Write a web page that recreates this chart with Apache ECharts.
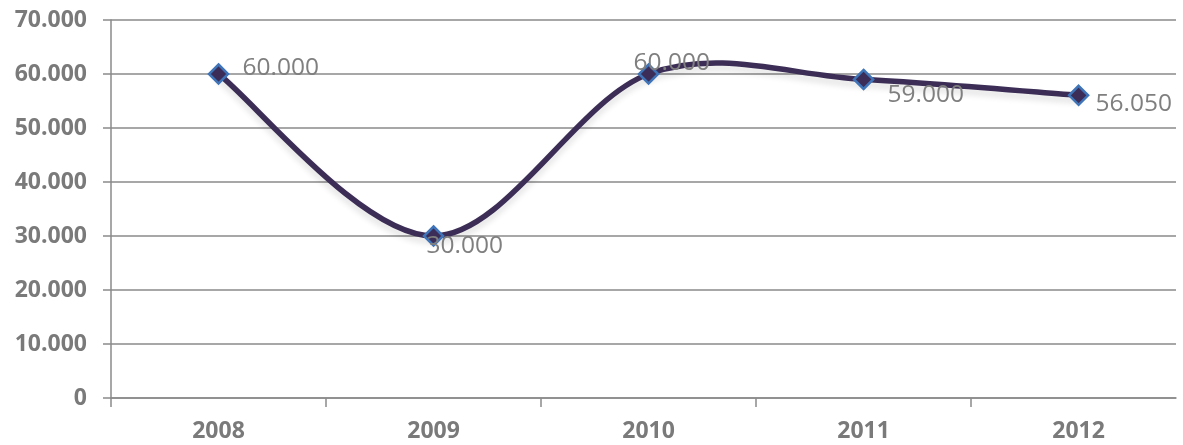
<!DOCTYPE html>
<html>
<head>
<meta charset="utf-8">
<script src="https://cdn.jsdelivr.net/npm/echarts@6/dist/echarts.min.js"></script>
<style>
html,body{margin:0;padding:0;background:#fff;}
#chart{width:1183px;height:445px;}
</style>
</head>
<body>
<div id="chart"></div>
<script>
const years = [2008, 2009, 2010, 2011, 2012];
const values = [60000, 30000, 60000, 59000, 56050];
const yTicks = [0, 10000, 20000, 30000, 40000, 50000, 60000, 70000];

function fmt(v) {
  return String(v).replace(/\B(?=(\d{3})+(?!\d))/g, '.');
}

// label placement (style only): [dx, dy] from marker centre
const labelOffsets = [[24, -6], [-7, 10], [-15, -11], [24, 16], [17, 9]];

const tickPositions = years.slice(0, -1).map(y => y + 0.5);
tickPositions.unshift(years[0] - 0.5);

const points = years.map((y, i) => [y, values[i]]);

// Spreadsheet-style (Catmull-Rom) smoothing drawn through the axis scales
function renderSegment(params, api) {
  const i = params.dataIndex;
  if (i >= points.length - 1) return null;
  const P = k => api.coord(points[Math.max(0, Math.min(points.length - 1, k))]);
  const p0 = P(i - 1), p1 = P(i), p2 = P(i + 1), p3 = P(i + 2);
  const t = 1 / 6;
  return {
    type: 'bezierCurve',
    shape: {
      x1: p1[0], y1: p1[1],
      cpx1: p1[0] + (p2[0] - p0[0]) * t, cpy1: p1[1] + (p2[1] - p0[1]) * t,
      cpx2: p2[0] - (p3[0] - p1[0]) * t, cpy2: p2[1] - (p3[1] - p1[1]) * t,
      x2: p2[0], y2: p2[1]
    },
    style: {
      fill: null, stroke: '#3b2d55', lineWidth: 5.5, lineCap: 'round',
      shadowColor: 'rgba(0,0,0,0.12)', shadowBlur: 6, shadowOffsetY: 5
    }
  };
}

const chart = echarts.init(document.getElementById('chart'));
chart.setOption({
  animation: false,
  backgroundColor: '#fff',
  grid: { left: 111, right: 7, top: 20, bottom: 47 },
  xAxis: {
    type: 'value',
    min: years[0] - 0.5,
    max: 2012.453,
    splitLine: { show: false },
    axisLine: { show: true, onZero: false, lineStyle: { color: '#8a8a8a', width: 1.5 } },
    axisTick: { show: true, length: 9, customValues: tickPositions, lineStyle: { color: '#8a8a8a', width: 1.5 } },
    axisLabel: {
      customValues: years,
      formatter: v => String(v),
      color: '#7a7a7a', fontWeight: 'bold', fontSize: 23,
      fontFamily: 'Open Sans', margin: 22
    }
  },
  yAxis: {
    type: 'value',
    min: 0, max: 70000, interval: 10000,
    axisLine: { show: true, lineStyle: { color: '#8a8a8a', width: 1.5 } },
    axisTick: { show: true, length: 8, lineStyle: { color: '#8a8a8a', width: 1.5 } },
    splitLine: { show: true, lineStyle: { color: '#8a8a8a', width: 1.5 } },
    axisLabel: {
      formatter: v => fmt(v),
      color: '#7a7a7a', fontWeight: 'bold', fontSize: 23,
      fontFamily: 'Open Sans', margin: 24
    }
  },
  series: [{
    type: 'custom',
    renderItem: renderSegment,
    data: points,
    clip: false,
    silent: true,
    z: 2
  }, {
    type: 'scatter',
    data: points.map((p, i) => ({
      value: p,
      label: {
        show: true,
        position: 'inside',
        align: 'left',
        verticalAlign: 'middle',
        offset: labelOffsets[i],
        formatter: fmt(values[i]),
        color: '#7f7f7f',
        fontSize: 24.5,
        fontFamily: 'Open Sans'
      }
    })),
    symbol: 'diamond',
    symbolSize: 19,
    itemStyle: { color: '#3b2d57', borderColor: '#3f74b8', borderWidth: 2.5, opacity: 1 },
    z: 3
  }]
});
</script>
</body>
</html>
